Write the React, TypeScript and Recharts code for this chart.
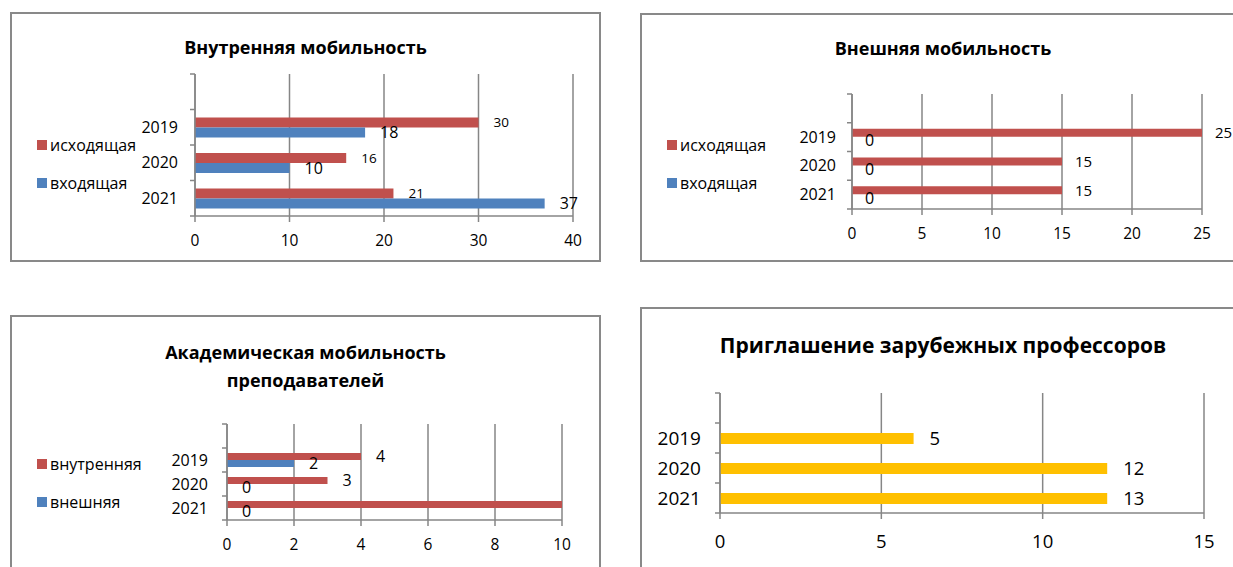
import { BarChart, Bar, XAxis, YAxis, CartesianGrid, LabelList } from "recharts"

const years = ["", "2019", "2020", "2021"]

// Внутренняя мобильность
const internalOut = [null, 30, 16, 21]
const internalIn = [null, 18, 10, 37]

// Внешняя мобильность
const externalOut = [null, 25, 15, 15]
const externalIn = [null, 0, 0, 0]

// Академическая мобильность преподавателей
const staffInner = [null, 4, 3, 10]
const staffInnerLabels = ["", "4", "3", ""]
const staffOuter = [null, 2, 0, 0]

// Приглашение зарубежных профессоров
const professors = [null, 6, 12, 12]
const professorsLabels = ["", "5", "12", "13"]

const ticks1 = [0, 10, 20, 30, 40]
const ticks2 = [0, 5, 10, 15, 20, 25]
const ticks3 = [0, 2, 4, 6, 8, 10]
const ticks4 = [0, 5, 10, 15]

const RED = "#C0504D"
const BLUE = "#4F81BD"
const YELLOW = "#FFC000"
const GRID = "#868686"
const FONT = "'Open Sans', 'Noto Sans', sans-serif"

type Series = {
  name: string
  color: string
  values: (number | null)[]
  labels?: string[]
  labelSize: number
}

type Panel = {
  box: { x: number; y: number; w: number; h: number }
  plot: { l: number; t: number; r: number; b: number }
  title: string[]
  titleY: number
  titleSize: number
  titleLineH: number
  ticks: number[]
  tickSize: number
  xLabelDy: number
  catSize: number
  catGap: number
  barSize: number
  labelOffset: number
  series: Series[]
  legend?: { x: number; ys: number[]; size: number }
}

const panels: Panel[] = [
  {
    box: { x: 10, y: 12, w: 591, h: 250 },
    plot: { l: 185, t: 62, r: 563, b: 204 },
    title: ["Внутренняя мобильность"],
    titleY: 35,
    titleSize: 18,
    titleLineH: 28,
    ticks: ticks1,
    tickSize: 15.5,
    xLabelDy: 25,
    catSize: 16,
    catGap: 17,
    barSize: 10,
    labelOffset: 15,
    series: [
      { name: "исходящая", color: RED, values: internalOut, labelSize: 13.5 },
      { name: "входящая", color: BLUE, values: internalIn, labelSize: 16 },
    ],
    legend: { x: 27, ys: [133, 171], size: 16 },
  },
  {
    box: { x: 640, y: 13, w: 606, h: 249 },
    plot: { l: 212, t: 81, r: 562, b: 196 },
    title: ["Внешняя мобильность"],
    titleY: 35,
    titleSize: 18,
    titleLineH: 28,
    ticks: ticks2,
    tickSize: 15.5,
    xLabelDy: 25,
    catSize: 16,
    catGap: 16,
    barSize: 8,
    labelOffset: 13,
    series: [
      { name: "исходящая", color: RED, values: externalOut, labelSize: 15 },
      { name: "входящая", color: BLUE, values: externalIn, labelSize: 16 },
    ],
    legend: { x: 27, ys: [132, 170], size: 16 },
  },
  {
    box: { x: 10, y: 315, w: 591, h: 270 },
    plot: { l: 217, t: 109, r: 552, b: 205 },
    title: ["Академическая мобильность", "преподавателей"],
    titleY: 37,
    titleSize: 18,
    titleLineH: 28,
    ticks: ticks3,
    tickSize: 15.5,
    xLabelDy: 25,
    catSize: 16,
    catGap: 19,
    barSize: 7,
    labelOffset: 15,
    series: [
      { name: "внутренняя", color: RED, values: staffInner, labels: staffInnerLabels, labelSize: 16 },
      { name: "внешняя", color: BLUE, values: staffOuter, labelSize: 16 },
    ],
    legend: { x: 27, ys: [149, 187], size: 16 },
  },
  {
    box: { x: 640, y: 307, w: 606, h: 280 },
    plot: { l: 80, t: 86, r: 564, b: 206 },
    title: ["Приглашение зарубежных профессоров"],
    titleY: 38,
    titleSize: 21,
    titleLineH: 28,
    ticks: ticks4,
    tickSize: 18.5,
    xLabelDy: 29,
    catSize: 19,
    catGap: 19,
    barSize: 11,
    labelOffset: 16,
    series: [{ name: "профессора", color: YELLOW, values: professors, labels: professorsLabels, labelSize: 18.5 }],
  },
]

function ChartPanel({ p }: { p: Panel }) {
  const data = years.map((year, i) => {
    const row: Record<string, string | number | null> = { year }
    p.series.forEach((s, k) => {
      row["v" + k] = s.values[i]
      const v = s.values[i]
      row["l" + k] = s.labels ? s.labels[i] : v === null ? "" : String(v)
    })
    return row
  })
  const band = (p.plot.b - p.plot.t) / years.length
  const max = p.ticks[p.ticks.length - 1]

  const CatTick = (props: any) => {
    const { y, payload, index } = props
    const l = p.plot.l
    return (
      <g>
        <line x1={l - 5} x2={l} y1={y - band / 2} y2={y - band / 2} stroke={GRID} strokeWidth={1.5} />
        {index === years.length - 1 && (
          <line x1={l - 5} x2={l} y1={y + band / 2} y2={y + band / 2} stroke={GRID} strokeWidth={1.5} />
        )}
        <text x={l - p.catGap} y={y} dy="0.35em" textAnchor="end" fontSize={p.catSize} fontFamily={FONT} fill="#000">
          {payload.value}
        </text>
      </g>
    )
  }

  const ValTick = (props: any) => {
    const { x, payload } = props
    return (
      <text x={x} y={p.plot.b + p.xLabelDy} dy="0.35em" textAnchor="middle" fontSize={p.tickSize} fontFamily={FONT} fill="#000">
        {payload.value}
      </text>
    )
  }

  return (
    <div
      style={{
        position: "absolute",
        left: p.box.x,
        top: p.box.y,
        width: p.box.w,
        height: p.box.h,
        border: "2px solid #898989",
        boxSizing: "border-box",
        background: "#fff",
      }}
    >
      <div style={{ position: "absolute", left: -2, top: -2 }}>
        <BarChart
          width={p.box.w}
          height={p.box.h}
          data={data}
          layout="vertical"
          barGap={0}
          margin={{ top: p.plot.t, right: p.box.w - p.plot.r, bottom: 0, left: 0 }}
        >
          <CartesianGrid horizontal={false} stroke={GRID} strokeWidth={1.5} />
          <XAxis
            type="number"
            domain={[0, max]}
            ticks={p.ticks}
            interval={0}
            height={p.box.h - p.plot.b}
            stroke={GRID}
            strokeWidth={1.5}
            tickSize={6}
            tick={<ValTick />}
          />
          <YAxis
            type="category"
            dataKey="year"
            width={p.plot.l}
            stroke={GRID}
            strokeWidth={1.5}
            tickLine={false}
            interval={0}
            tick={<CatTick />}
          />
          {p.series.map((s, k) => (
            <Bar
              key={k}
              dataKey={"v" + k}
              fill={s.color}
              barSize={p.barSize}
              minPointSize={0.01}
              isAnimationActive={false}
            >
              <LabelList
                dataKey={"l" + k}
                position="right"
                offset={p.labelOffset}
                fontSize={s.labelSize}
                fontFamily={FONT}
                fill="#000"
              />
            </Bar>
          ))}
        </BarChart>
      </div>
      {p.title.map((t, i) => (
        <div
          key={i}
          style={{
            position: "absolute",
            left: 0,
            width: p.box.w - 4,
            top: p.titleY - 2 + i * p.titleLineH,
            transform: "translateY(-50%)",
            textAlign: "center",
            fontFamily: FONT,
            fontWeight: 700,
            fontSize: p.titleSize,
            whiteSpace: "nowrap",
          }}
        >
          {t}
        </div>
      ))}
      {p.legend &&
        p.series.map((s, k) => (
          <div
            key={k}
            style={{
              position: "absolute",
              left: p.legend!.x - 2,
              top: p.legend!.ys[k] - 2,
              transform: "translateY(-50%)",
              display: "flex",
              alignItems: "center",
              fontFamily: FONT,
              fontSize: p.legend!.size,
              whiteSpace: "nowrap",
            }}
          >
            <span style={{ width: 10, height: 10, background: s.color, marginRight: 3, display: "inline-block" }} />
            {s.name}
          </div>
        ))}
    </div>
  )
}

export default function App() {
  return (
    <div
      style={{
        position: "absolute",
        left: 0,
        top: 0,
        width: 1233,
        height: 567,
        overflow: "hidden",
        background: "#fff",
      }}
    >
      {panels.map((p, i) => (
        <ChartPanel key={i} p={p} />
      ))}
    </div>
  )
}
